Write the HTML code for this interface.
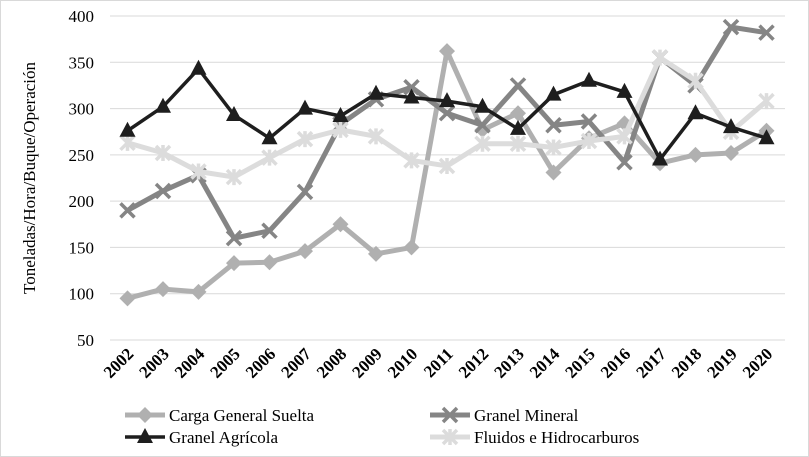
<!DOCTYPE html>
<html><head><meta charset="utf-8"><style>
body{margin:0;background:#fff}
svg{font-family:"Liberation Serif",serif;display:block}
</style></head><body>
<svg id="chart" width="809" height="457" viewBox="0 0 809 457">
<rect x="0.5" y="0.5" width="808" height="456" fill="#fff" stroke="#d9d9d9"/>
<g id="grid"></g><g id="yt"></g><g id="xt"></g><g id="series"></g>
<text transform="translate(35,178) rotate(-90)" text-anchor="middle" font-size="17">Toneladas/Hora/Buque/Operación</text>
<g id="legend"></g>
</svg>
<script>
const years=["2002","2003","2004","2005","2006","2007","2008","2009","2010","2011","2012","2013","2014","2015","2016","2017","2018","2019","2020"];
const yTicks=[50,100,150,200,250,300,350,400];
const carga=[95,105,102,133,134,146,175,143,150,362,277,295,231,268,284,241,250,252,276];
const mineral=[190,211,228,160,168,210,283,310,323,295,282,325,282,286,242,355,325,388,382];
const agricola=[276,302,343,293,268,300,292,316,312,308,302,278,315,330,318,245,295,280,268];
const fluidos=[263,252,232,226,247,267,277,270,244,238,262,262,258,265,270,355,330,275,308];
const names=["Carga General Suelta","Granel Mineral","Granel Agrícola","Fluidos e Hidrocarburos"];
const NS="http://www.w3.org/2000/svg";
const x=i=>127.5+i*35.5;
const y=v=>340-(v-50)*(324/350);
function mk(t,a,p){const e=document.createElementNS(NS,t);for(const k in a)e.setAttribute(k,a[k]);document.getElementById(p).appendChild(e);return e;}
yTicks.forEach(v=>{
 const l=mk('line',{x1:110,x2:785,y1:y(v),y2:y(v),stroke:'#d9d9d9','stroke-width':1},'grid');
 
 
 const t=mk('text',{x:94,y:y(v)+6,'text-anchor':'end','font-size':17},'yt');t.textContent=v;
 
 
});
years.forEach((yr,i)=>{
 const t=mk('text',{transform:`translate(${x(i)+7},355) rotate(-45)`,'text-anchor':'end','font-size':17,'font-weight':'bold'},'xt');t.textContent=yr;
 
 
});
function marker(kind,cx,cy,col,p){
 let e;
 if(kind==='d')e=mk('polygon',{points:`${cx},${cy-8} ${cx+8},${cy} ${cx},${cy+8} ${cx-8},${cy}`,fill:col},p);
 else if(kind==='t')e=mk('polygon',{points:`${cx},${cy-9} ${cx+8},${cy+6} ${cx-8},${cy+6}`,fill:col},p);
 else if(kind==='x')e=mk('path',{d:`M${cx-7},${cy-7}L${cx+7},${cy+7}M${cx+7},${cy-7}L${cx-7},${cy+7}`,stroke:col,'stroke-width':3.5,fill:'none'},p);
 else e=mk('path',{d:`M${cx-7},${cy-7}L${cx+7},${cy+7}M${cx+7},${cy-7}L${cx-7},${cy+7}M${cx},${cy-8}L${cx},${cy+8}`,stroke:col,'stroke-width':3.5,fill:'none'},p);
 return e;
}
const defs=[[carga,'#b0b0b0','d',5,'series-carga-general-suelta'],[mineral,'#858585','x',5,'series-granel-mineral'],[fluidos,'#dcdcdc','s',5,'series-fluidos-hidrocarburos'],[agricola,'#1e1e1e','t',3.5,'series-granel-agricola']];
defs.forEach(([arr,col,k,w,nm])=>{
 const g=mk('g',{},'series');
 
 
 g.id=nm;
 const pl=mk('polyline',{points:arr.map((v,i)=>x(i)+','+y(v)).join(' '),fill:'none',stroke:col,'stroke-width':w,'stroke-linejoin':'round'},nm);
 
 
 arr.forEach((v,i)=>{const m=marker(k,x(i),y(v),col,nm);
  
  });
});
const leg=[[0,'#b0b0b0','d',5,125,415],[1,'#858585','x',5,430,415],[2,'#1e1e1e','t',3.5,125,437],[3,'#dcdcdc','s',5,430,437]];
leg.forEach(([i,col,k,w,lx,ly])=>{
 const g=mk('g',{},'legend');g.id='leg'+i;
 
 
 mk('line',{x1:lx,x2:lx+40,y1:ly,y2:ly,stroke:col,'stroke-width':w},'leg'+i);
 marker(k,lx+20,ly,col,'leg'+i);
 const t=mk('text',{x:lx+44,y:ly+6,'font-size':17},'leg'+i);t.textContent=names[i];
});
</script>
</body></html>
